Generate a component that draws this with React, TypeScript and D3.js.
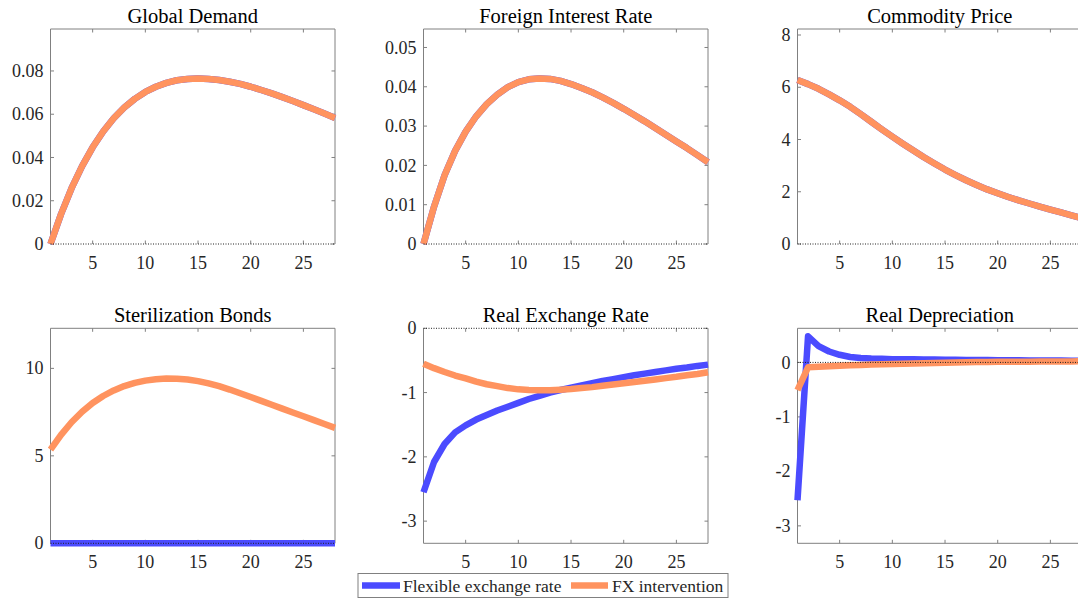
import React from "react";
import * as d3 from "d3";

// ---------- data ----------
const periods = d3.range(1, 29); // 1..28

const globalDemandFXI = [0, 0.0138, 0.0258, 0.036, 0.0447, 0.052, 0.0581, 0.0631, 0.0671, 0.0703, 0.0727, 0.0745, 0.0757, 0.0763, 0.0765, 0.0763, 0.0758, 0.075, 0.074, 0.0727, 0.0712, 0.0696, 0.0679, 0.0661, 0.0642, 0.0623, 0.0603, 0.0583];
const globalDemandFlex = globalDemandFXI.slice();

const foreignRateFXI = [0, 0.0095, 0.0175, 0.0237, 0.0286, 0.0325, 0.0356, 0.038, 0.0399, 0.0412, 0.0419, 0.0421, 0.042, 0.0415, 0.0407, 0.0397, 0.0386, 0.0373, 0.0359, 0.0344, 0.0328, 0.0312, 0.0295, 0.0278, 0.0261, 0.0244, 0.0226, 0.0208];
const foreignRateFlex = foreignRateFXI.slice();

const commodityFXI = [6.28, 6.12, 5.94, 5.73, 5.5, 5.25, 4.97, 4.68, 4.39, 4.11, 3.84, 3.58, 3.32, 3.08, 2.85, 2.64, 2.44, 2.26, 2.09, 1.94, 1.8, 1.67, 1.55, 1.43, 1.32, 1.21, 1.1, 0.99];
const commodityFlex = commodityFXI.slice();

const sterilFlex = [0, 0, 0, 0, 0, 0, 0, 0, 0, 0, 0, 0, 0, 0, 0, 0, 0, 0, 0, 0, 0, 0, 0, 0, 0, 0, 0, 0];
const sterilFXI = [5.35, 6.2, 6.92, 7.52, 8.02, 8.42, 8.74, 8.99, 9.17, 9.3, 9.38, 9.42, 9.41, 9.36, 9.27, 9.14, 8.98, 8.79, 8.58, 8.36, 8.14, 7.92, 7.7, 7.48, 7.26, 7.04, 6.82, 6.6];

const rerFlex = [-2.55, -2.08, -1.8, -1.62, -1.51, -1.42, -1.35, -1.28, -1.22, -1.16, -1.1, -1.05, -1.0, -0.96, -0.925, -0.89, -0.855, -0.82, -0.79, -0.76, -0.73, -0.705, -0.68, -0.655, -0.63, -0.61, -0.585, -0.565];
const rerFXI = [-0.55, -0.62, -0.68, -0.735, -0.78, -0.83, -0.87, -0.9, -0.93, -0.95, -0.96, -0.965, -0.965, -0.955, -0.945, -0.93, -0.915, -0.895, -0.875, -0.855, -0.835, -0.815, -0.795, -0.775, -0.755, -0.73, -0.71, -0.685];

const deprFlex = [-2.53, 0.48, 0.3, 0.2, 0.14, 0.1, 0.08, 0.07, 0.065, 0.06, 0.058, 0.056, 0.054, 0.052, 0.05, 0.048, 0.046, 0.044, 0.042, 0.04, 0.039, 0.038, 0.036, 0.035, 0.034, 0.033, 0.032, 0.031];
const deprFXI = [-0.51, -0.09, -0.08, -0.07, -0.06, -0.053, -0.046, -0.04, -0.035, -0.03, -0.025, -0.02, -0.015, -0.01, -0.005, 0, 0.003, 0.006, 0.008, 0.01, 0.012, 0.013, 0.014, 0.015, 0.016, 0.017, 0.018, 0.02];

const xTicks = [5, 10, 15, 20, 25];
const xTickLabels = ["5", "10", "15", "20", "25"];

const titles = ["Global Demand", "Foreign Interest Rate", "Commodity Price", "Sterilization Bonds", "Real Exchange Rate", "Real Depreciation"];
const yDomains: [number, number][] = [[0, 0.0994], [0, 0.0547], [0, 8.23], [0, 12.29], [-3.345, 0], [-3.32, 0.626]];
const yTicks = [[0, 0.02, 0.04, 0.06, 0.08], [0, 0.01, 0.02, 0.03, 0.04, 0.05], [0, 2, 4, 6, 8], [0, 5, 10], [0, -1, -2, -3], [0, -1, -2, -3]];
const yTickLabels = [["0", "0.02", "0.04", "0.06", "0.08"], ["0", "0.01", "0.02", "0.03", "0.04", "0.05"], ["0", "2", "4", "6", "8"], ["0", "5", "10"], ["0", "-1", "-2", "-3"], ["0", "-1", "-2", "-3"]];
const flexSeries = [globalDemandFlex, foreignRateFlex, commodityFlex, sterilFlex, rerFlex, deprFlex];
const fxiSeries = [globalDemandFXI, foreignRateFXI, commodityFXI, sterilFXI, rerFXI, deprFXI];

const legendLabels = ["Flexible exchange rate", "FX intervention"];

// ---------- style ----------
const BLUE = "#4b4bff";
const ORANGE = "#ff935f";
const AXIS = "#808080";
const TEXT = "#262626";
const FONT = "'Liberation Serif', 'Times New Roman', serif";

const colLefts = [50.5, 423.5, 797.5];
const rowTops = [29, 328.3];
const PW = 284.5;
const PH = 215;
const LW = 6.5;
const TICK = 3.5;

function Panel({ idx }: { idx: number }) {
  const col = idx % 3;
  const row = Math.floor(idx / 3);
  const x0 = colLefts[col];
  const y0 = rowTops[row];
  const x = d3.scaleLinear().domain([1, 28]).range([x0, x0 + PW]);
  const y = d3.scaleLinear().domain(yDomains[idx]).range([y0 + PH, y0]);
  const line = d3
    .line<number>()
    .x((_, i) => x(periods[i]))
    .y((d) => y(d));
  const top = y0;
  const bottom = y0 + PH;
  const left = x0;
  const right = x0 + PW;
  const zeroY = y(0);
  const zeroAtTop = Math.abs(zeroY - top) < 0.5;
  const zeroAtBottom = Math.abs(zeroY - bottom) < 0.5;
  return (
    <g>
      <text x={(left + right) / 2} y={y0 - 6.5} textAnchor="middle" fontFamily={FONT} fontSize={20.5} fill="#000">
        {titles[idx]}
      </text>
      {/* box */}
      <line x1={left} x2={left} y1={top} y2={bottom} stroke={AXIS} strokeWidth={1} />
      <line x1={right} x2={right} y1={top} y2={bottom} stroke={AXIS} strokeWidth={1} />
      {!zeroAtTop && <line x1={left} x2={right} y1={top} y2={top} stroke={AXIS} strokeWidth={1} />}
      {!zeroAtBottom && <line x1={left} x2={right} y1={bottom} y2={bottom} stroke={AXIS} strokeWidth={1} />}
      {/* x ticks */}
      {xTicks.map((t, i) => (
        <g key={"xt" + i}>
          <line x1={x(t)} x2={x(t)} y1={bottom} y2={bottom - TICK} stroke={AXIS} />
          <line x1={x(t)} x2={x(t)} y1={top} y2={top + TICK} stroke={AXIS} />
          <text x={x(t)} y={bottom + 24.5} textAnchor="middle" fontFamily={FONT} fontSize={18} fill={TEXT}>
            {xTickLabels[i]}
          </text>
        </g>
      ))}
      {/* y ticks */}
      {yTicks[idx].map((t, i) => (
        <g key={"yt" + i}>
          <line x1={left} x2={left + TICK} y1={y(t)} y2={y(t)} stroke={AXIS} />
          <line x1={right} x2={right - TICK} y1={y(t)} y2={y(t)} stroke={AXIS} />
          <text x={left - 7} y={y(t)} dy="0.34em" textAnchor="end" fontFamily={FONT} fontSize={18} fill={TEXT}>
            {yTickLabels[idx][i]}
          </text>
        </g>
      ))}
      {/* series */}
      <path d={line(flexSeries[idx]) || ""} fill="none" stroke={BLUE} strokeWidth={LW} strokeLinejoin="round" />
      <path d={line(fxiSeries[idx]) || ""} fill="none" stroke={ORANGE} strokeWidth={LW} strokeLinejoin="round" />
      {/* zero line */}
      <line x1={left} x2={right} y1={zeroY} y2={zeroY} stroke="#222" strokeWidth={1} strokeDasharray="1 1.5" />
    </g>
  );
}

export default function App() {
  const lx = 358;
  const ly = 573.5;
  return (
    <svg width={1078} height={598} style={{ position: "fixed", left: 0, top: 0, background: "#fff" }}>
      <rect x={0} y={0} width={1078} height={598} fill="#fff" />
      {[0, 1, 2, 3, 4, 5].map((i) => (
        <Panel key={i} idx={i} />
      ))}
      <g>
        <rect x={lx} y={ly} width={370} height={24} fill="#fff" stroke={AXIS} strokeWidth={1} />
        <line x1={lx + 4} x2={lx + 42} y1={ly + 12} y2={ly + 12} stroke={BLUE} strokeWidth={LW} />
        <text x={lx + 45} y={ly + 18.3} fontFamily={FONT} fontSize={17.5} fill={TEXT}>
          {legendLabels[0]}
        </text>
        <line x1={lx + 213} x2={lx + 250} y1={ly + 12} y2={ly + 12} stroke={ORANGE} strokeWidth={LW} />
        <text x={lx + 254} y={ly + 18.3} fontFamily={FONT} fontSize={17.5} fill={TEXT}>
          {legendLabels[1]}
        </text>
      </g>
    </svg>
  );
}
